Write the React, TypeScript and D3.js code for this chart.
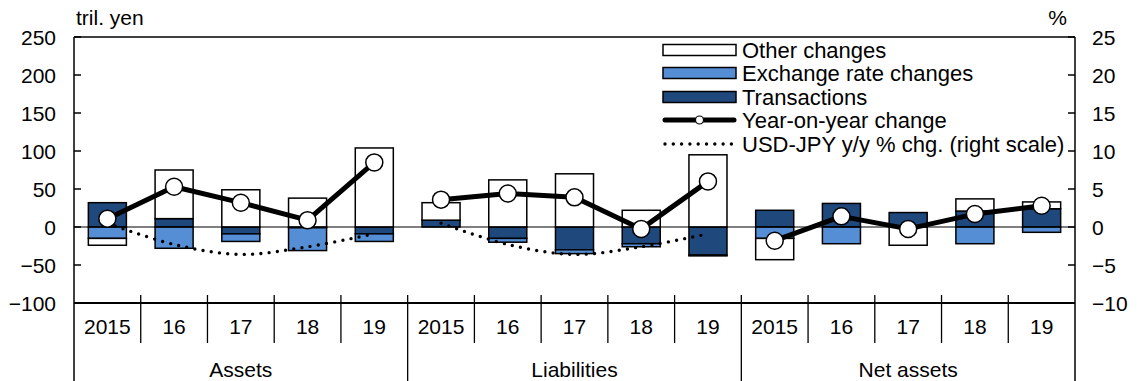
import React from "react";
import * as d3 from "d3";

// ---- data (tril. yen; USD-JPY in %) ----
const years = ["2015", "16", "17", "18", "19"];
const groups = ["Assets", "Liabilities", "Net assets"];
// order: Assets 2015..19, Liabilities 2015..19, Net assets 2015..19
const transactions = [32, 11, -9, -1, -9, 9, -15, -30, -22, -37, 22, 31, 19, 21, 24];
const exchangeRate = [-15, -28, -10, -30, -10, 0, -5, -5, -4, -1, -15, -22, 0, -22, -7];
const otherChanges = [-9, 64, 49, 38, 104, 23, 62, 70, 22, 95, -28, 0, -24, 16, 9];
const yoyChange = [11, 53, 32, 9, 85, 36, 44, 39, -2.5, 60, -18, 14, -2.5, 17, 28];
const usdJpy = [0.5, -2.3, -3.6, -2.6, -0.9];
const leftTicks = [250, 200, 150, 100, 50, 0, -50, -100];
const rightTicks = [25, 20, 15, 10, 5, 0, -5, -10];
const legendLabels = [
  "Other changes",
  "Exchange rate changes",
  "Transactions",
  "Year-on-year change",
  "USD-JPY y/y % chg. (right scale)",
];

const DARK = "#1f497d";
const LIGHT = "#558ed5";
const FONT = "'Liberation Sans', Arial, sans-serif";

export default function App() {
  const W = 1139, H = 381;
  const L = 74, R = 1075, T = 37, B = 303;
  const n = years.length * groups.length;
  const x = d3.scaleBand<number>().domain(d3.range(n)).range([L, R]).padding(0);
  const bw = x.bandwidth();
  const barW = bw * 0.57;
  const cx = (i: number) => (x(i) as number) + bw / 2;
  const y = d3.scaleLinear().domain([-100, 250]).range([B, T]);
  const yR = d3.scaleLinear().domain([-10, 25]).range([B, T]);

  const series = [
    { vals: transactions, fill: DARK },
    { vals: exchangeRate, fill: LIGHT },
    { vals: otherChanges, fill: "#ffffff" },
  ];

  const rects: JSX.Element[] = [];
  for (let i = 0; i < n; i++) {
    let pos = 0, neg = 0;
    series.forEach((s, k) => {
      const v = s.vals[i];
      if (v === 0) return;
      let y0: number, y1: number;
      if (v > 0) { y0 = pos; y1 = pos + v; pos = y1; }
      else { y0 = neg; y1 = neg + v; neg = y1; }
      const top = y(Math.max(y0, y1));
      const h = Math.abs(y(y0) - y(y1));
      rects.push(
        <rect key={`b${i}-${k}`} x={cx(i) - barW / 2} y={top} width={barW} height={h}
          fill={s.fill} stroke="#000" strokeWidth={1.5} />
      );
    });
  }

  const line = d3.line<[number, number]>().x(d => d[0]).y(d => d[1]);
  const smooth = d3.line<[number, number]>().x(d => d[0]).y(d => d[1]).curve(d3.curveCatmullRom.alpha(0.5));

  const yoyPaths = groups.map((g, gi) => {
    const pts: [number, number][] = years.map((_, j) => [cx(gi * 5 + j), y(yoyChange[gi * 5 + j])]);
    return <path key={`yoy${gi}`} d={line(pts) || ""} fill="none" stroke="#000" strokeWidth={5} strokeLinejoin="round" />;
  });
  const fxPaths = [0, 1].map(gi => {
    const pts: [number, number][] = years.map((_, j) => [cx(gi * 5 + j), yR(usdJpy[j])]);
    return <path key={`fx${gi}`} d={smooth(pts) || ""} fill="none" stroke="#000" strokeWidth={3.4}
      strokeDasharray="0 8.3" strokeLinecap="round" />;
  });
  const circles = yoyChange.map((v, i) => (
    <circle key={`c${i}`} cx={cx(i)} cy={y(v)} r={8.5} fill="#fff" stroke="#000" strokeWidth={1.5} />
  ));

  // legend
  const lgX0 = 663, lgX1 = 736, lgText = 742;
  const rowsY = [50, 73, 97, 120, 144];
  const legendFills = ["#ffffff", LIGHT, DARK];

  return (
    <svg width={W} height={H} style={{ position: "absolute", left: 0, top: 0, display: "block" }}
      fontFamily={FONT} fontSize={21}>
      <rect x={0} y={0} width={W} height={H} fill="#fff" />
      {rects}
      <line x1={L} x2={R} y1={y(0)} y2={y(0)} stroke="#000" strokeWidth={1.2} />
      {fxPaths}
      {yoyPaths}
      {circles}
      {/* frame */}
      <line x1={L} x2={R} y1={T} y2={T} stroke="#000" strokeWidth={1.5} />
      <line x1={L} x2={R} y1={B} y2={B} stroke="#000" strokeWidth={2} />
      <line x1={L} x2={L} y1={T} y2={H} stroke="#000" strokeWidth={1.5} />
      <line x1={R} x2={R} y1={T} y2={H} stroke="#000" strokeWidth={1.5} />
      {/* left axis */}
      {leftTicks.map(t => (
        <g key={`lt${t}`}>
          <line x1={L} x2={L + 7} y1={y(t)} y2={y(t)} stroke="#000" strokeWidth={1.5} />
          <text x={56} y={y(t)} dy="0.36em" textAnchor="end">{t < 0 ? `\u2212${-t}` : t}</text>
        </g>
      ))}
      {rightTicks.map(t => (
        <g key={`rt${t}`}>
          <line x1={R - 7} x2={R} y1={yR(t)} y2={yR(t)} stroke="#000" strokeWidth={1.5} />
          <text x={1092} y={yR(t)} dy="0.36em" textAnchor="start">{t < 0 ? `\u2212${-t}` : t}</text>
        </g>
      ))}
      <text x={76} y={25}>tril. yen</text>
      <text x={1067} y={25} textAnchor="end">%</text>
      {/* category axis */}
      {d3.range(1, n).map(i => (
        <line key={`ct${i}`} x1={x(i) as number} x2={x(i) as number} y1={B - 8}
          y2={i % 5 === 0 ? H : 343} stroke="#000" strokeWidth={1.3} />
      ))}
      {d3.range(n).map(i => (
        <text key={`yl${i}`} x={cx(i)} y={334} textAnchor="middle">{years[i % 5]}</text>
      ))}
      {groups.map((g, gi) => (
        <text key={`g${gi}`} x={(cx(gi * 5) + cx(gi * 5 + 4)) / 2} y={377} textAnchor="middle">{g}</text>
      ))}
      {/* legend */}
      {legendFills.map((f, k) => (
        <rect key={`lg${k}`} x={lgX0} y={rowsY[k] - 5.5} width={lgX1 - lgX0} height={11}
          fill={f} stroke="#000" strokeWidth={1.5} />
      ))}
      <line x1={lgX0 + 2} x2={lgX1 - 2} y1={rowsY[3]} y2={rowsY[3]} stroke="#000" strokeWidth={5} strokeLinecap="round" />
      <circle cx={(lgX0 + lgX1) / 2} cy={rowsY[3]} r={4} fill="#fff" stroke="#000" strokeWidth={1.2} />
      <line x1={lgX0 + 2} x2={lgX1 - 2} y1={rowsY[4]} y2={rowsY[4]} stroke="#000" strokeWidth={3.4}
        strokeDasharray="0 8.3" strokeLinecap="round" />
      {legendLabels.map((t, k) => (
        <text key={`lt${k}`} x={lgText} y={rowsY[k] + 8} fontSize={22}>{t}</text>
      ))}
    </svg>
  );
}
